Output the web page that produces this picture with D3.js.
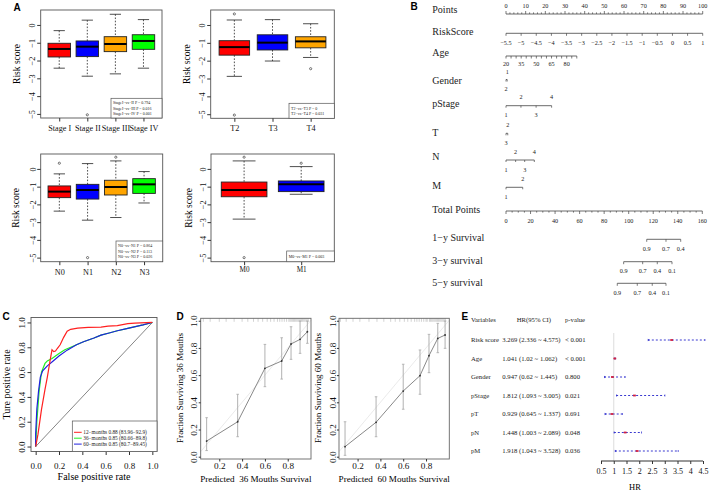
<!DOCTYPE html>
<html><head><meta charset="utf-8">
<script src="https://cdn.jsdelivr.net/npm/d3@7"></script>
<style>body{margin:0;background:#fff}svg{display:block}</style>
</head><body><svg id="c" width="709" height="492"></svg>
<script>
// ---------------- DATA ----------------
// Panel A: boxplot stats [lowWhisker, Q1, median, Q3, highWhisker]
const riskTicks = [-5, -4, -3, -2, -1, 0];
const boxColors = ["#ff0000", "#0000ff", "#ffa500", "#00ff00"];
const stageCats = ["Stage I", "Stage II", "Stage III", "Stage IV"];
const stageStats = [[-2.43, -1.8, -1.35, -1.03, -0.32], [-2.88, -1.78, -1.22, -0.9, 0.27], [-2.75, -1.5, -1.07, -0.66, 0.6], [-2.43, -1.37, -0.9, -0.55, 0.3]];
const stageOutliers = [[], [-5.05], [], []];
const stagePvals = ["StageI\u2212vs\u2212II P = 0.794", "StageI\u2212vs\u2212III P = 0.016", "StageI\u2212vs\u2212IV P = 0.001"];
const tCats = ["T2", "T3", "T4"];
const tStats = [[-2.88, -1.69, -1.24, -0.88, 0.28], [-2.02, -1.4, -0.99, -0.55, 0.3], [-1.82, -1.28, -0.92, -0.66, 0.07]];
const tOutliers = [[0.62, -5.05], [], [-2.45]];
const tPvals = ["T2\u2212vs\u2212T3 P = 0", "T2\u2212vs\u2212T4 P = 0.031"];
const nCats = ["N0", "N1", "N2", "N3"];
const nStats = [[-2.38, -1.62, -1.28, -0.96, -0.28], [-2.89, -1.7, -1.19, -0.87, 0.3], [-2.74, -1.47, -1.02, -0.64, 0.45], [-1.92, -1.38, -0.87, -0.55, -0.15]];
const nOutliers = [[0.32], [-5.0], [0.66], []];
const nPvals = ["N0\u2212vs\u2212N1 P = 0.864", "N0\u2212vs\u2212N2 P = 0.113", "N0\u2212vs\u2212N3 P = 0.026"];
const mCats = ["M0", "M1"];
const mStats = [[-2.83, -1.57, -1.19, -0.74, 0.45], [-1.43, -1.28, -0.87, -0.68, 0.13]];
const mOutliers = [[0.66, -5.0], [0.32]];
const mPvals = ["M0\u2212vs\u2212M1 P = 0.003"];

// Panel B: nomogram
const pointsLabels = [0, 10, 20, 30, 40, 50, 60, 70, 80, 90, 100];
const riskScoreLabels = [-5.5, -5, -4.5, -4, -3.5, -3, -2.5, -2, -1.5, -1, -0.5, 0, 0.5, 1];
const riskScoreRange = [-5.5, 1];         // maps to 0..100 points
const ageTickValues = [20, 25, 30, 35, 40, 45, 50, 55, 60, 65, 70, 75, 80, 85, 90];
const ageLabels = [20, 35, 50, 65, 80];
const ageRange = [20, 90], agePointsRange = [0, 36];
const genderLevels = ["1", "2"], genderPoints = [0.6, 0];
const pStageLevels = ["1", "2", "3", "4"], pStagePoints = [0, 7.6, 15.3, 23.2];
const tLevels = ["2", "3"], tPoints = [0.9, 0];
const nLevels = ["1", "2", "3", "4"], nPoints = [0, 4.9, 9.5, 14.4];
const mLevels = ["1", "2"], mPoints = [0, 8.5];
const totalLabels = [0, 20, 40, 60, 80, 100, 120, 140, 160];
const surv1Probs = ["0.9", "0.7", "0.4"], surv1Total = [114.7, 130.4, 142.4];
const surv3Probs = ["0.9", "0.7", "0.4", "0.1"], surv3Total = [95.9, 111.4, 123.3, 135.3];
const surv5Probs = ["0.9", "0.7", "0.4", "0.1"], surv5Total = [90.7, 107.0, 119.2, 130.4];

// Panel C: ROC curves [FPR, TPR]
const roc12 = [[0,0],[0.02,0.1],[0.05,0.3],[0.08,0.46],[0.1,0.56],[0.125,0.7],[0.14,0.78],[0.155,0.765],[0.17,0.77],[0.185,0.79],[0.21,0.82],[0.24,0.88],[0.27,0.93],[0.3,0.945],[0.36,0.955],[0.45,0.96],[0.56,0.963],[0.62,0.97],[0.7,0.975],[0.79,0.99],[0.85,0.995],[1,1]];
const roc36 = [[0,0],[0.01,0.2],[0.03,0.45],[0.05,0.6],[0.08,0.67],[0.1,0.69],[0.14,0.71],[0.2,0.75],[0.25,0.78],[0.3,0.8],[0.35,0.82],[0.41,0.845],[0.5,0.875],[0.56,0.898],[0.63,0.915],[0.7,0.933],[0.78,0.95],[0.845,0.965],[0.92,0.98],[1,1]];
const roc60 = [[0,0],[0,0.1],[0.01,0.3],[0.025,0.45],[0.04,0.56],[0.06,0.61],[0.1,0.65],[0.15,0.69],[0.2,0.73],[0.27,0.777],[0.35,0.82],[0.41,0.845],[0.5,0.875],[0.56,0.898],[0.63,0.915],[0.7,0.933],[0.78,0.95],[0.845,0.965],[0.92,0.98],[1,1]];
const rocLegend = ["12\u2212months 0.88 (83.96\u221292.9)", "36\u2212months 0.85 (80.66\u221289.8)", "60\u2212months 0.85 (80.7\u221289.45)"];
const rocColors = ["#ff2020", "#22ee22", "#2020e0"];
const unitTicks = [0, 0.2, 0.4, 0.6, 0.8, 1.0];

// Panel D: calibration
const calTicksX = [0.2, 0.4, 0.6, 0.8];
const cal36Pred = [0.089, 0.361, 0.6, 0.747, 0.829, 0.908, 0.972];
const cal36Obs = [0.115, 0.257, 0.65, 0.704, 0.829, 0.863, 0.919];
const cal36Lo = [0.045, 0.147, 0.515, 0.571, 0.716, 0.76, 0.834];
const cal36Hi = [0.287, 0.459, 0.826, 0.875, 0.956, 0.998, 0.998];
const cal60Pred = [0.09, 0.362, 0.6, 0.747, 0.826, 0.903, 0.967];
const cal60Obs = [0.074, 0.253, 0.483, 0.596, 0.743, 0.87, 0.895];
const cal60Lo = [0.01, 0.147, 0.349, 0.459, 0.618, 0.765, 0.797];
const cal60Hi = [0.257, 0.441, 0.68, 0.785, 0.9, 0.981, 0.998];
const rug36 = [0.06,0.12,0.2,0.26,0.33,0.4,0.45,0.5,0.54,0.58,0.62,0.65,0.68,0.71,0.73,0.75,0.77,0.79,0.81,0.82,0.83,0.84,0.85,0.86,0.87,0.88,0.89,0.9,0.91,0.92,0.93,0.94,0.95,0.96,0.97,0.98];
const rug60 = [0.05,0.1,0.16,0.22,0.3,0.37,0.43,0.49,0.53,0.57,0.61,0.64,0.67,0.7,0.72,0.74,0.76,0.78,0.8,0.81,0.83,0.84,0.85,0.86,0.87,0.88,0.89,0.9,0.91,0.92,0.93,0.94,0.95,0.96,0.97];

// Panel E: forest plot
const forestVars = ["Risk score", "Age", "Gender", "pStage", "pT", "pN", "pM"];
const forestHR = [3.269, 1.041, 0.947, 1.812, 0.929, 1.448, 1.918];
const forestLo = [2.336, 1.02, 0.62, 1.093, 0.645, 1.003, 1.043];
const forestHi = [4.575, 1.062, 1.445, 3.005, 1.337, 2.089, 3.528];
const forestP = ["< 0.001", "< 0.001", "0.800", "0.021", "0.691", "0.048", "0.036"];
const hrTicks = [0.5, 1, 1.5, 2, 2.5, 3, 3.5, 4, 4.5];

// ---------------- DRAWING ----------------
const SERIF = '"Liberation Serif","Times New Roman",serif';
const SANS = '"Liberation Sans",Arial,sans-serif';
const svg = d3.select("#c");
const minus = v => (v < 0 ? "\u2212" + Math.abs(v) : String(v));

function panelLetter(t, x, y) {
  svg.append("text").attr("x", x).attr("y", y).text(t)
    .style("font-family", SANS).style("font-weight", "bold").style("font-size", "10px");
}
function styleAxis(g, fs) {
  g.select(".domain").remove();
  g.selectAll("line").attr("stroke", "#333");
  g.selectAll("text").style("font-family", SERIF).style("font-size", fs + "px").attr("fill", "#111");
}
function rotateYLabels(g, off) {
  g.selectAll("text").attr("x", null).attr("dy", "0.35em").attr("text-anchor", "middle")
    .attr("transform", `translate(${-off},0) rotate(-90)`);
}

// ---- Panel A ----
function boxPanel(o) {
  const n = o.cats.length;
  const x = d3.scaleLinear().domain([0.5 - 0.04 * n, n + 0.5 + 0.04 * n]).range([o.left, o.right]);
  const y = d3.scaleLinear().domain([-5.23, 0.84]).range([o.bottom, o.top]);
  const g = svg.append("g");
  const bw = 0.8 * (x(1) - x(0));
  o.stats.forEach((s, i) => {
    const cx = x(i + 1);
    const gg = g.append("g");
    gg.append("line").attr("x1", cx).attr("x2", cx).attr("y1", y(s[4])).attr("y2", y(s[3]))
      .attr("stroke", "#222").attr("stroke-width", 0.8).attr("stroke-dasharray", "1.6,1.6");
    gg.append("line").attr("x1", cx).attr("x2", cx).attr("y1", y(s[1])).attr("y2", y(s[0]))
      .attr("stroke", "#222").attr("stroke-width", 0.8).attr("stroke-dasharray", "1.6,1.6");
    [s[0], s[4]].forEach(v => gg.append("line").attr("x1", cx - bw / 4).attr("x2", cx + bw / 4)
      .attr("y1", y(v)).attr("y2", y(v)).attr("stroke", "#222").attr("stroke-width", 0.8));
    gg.append("rect").attr("x", cx - bw / 2).attr("y", y(s[3])).attr("width", bw)
      .attr("height", y(s[1]) - y(s[3])).attr("fill", boxColors[i]).attr("stroke", "#222").attr("stroke-width", 0.9);
    gg.append("line").attr("x1", cx - bw / 2).attr("x2", cx + bw / 2).attr("y1", y(s[2])).attr("y2", y(s[2]))
      .attr("stroke", "#000").attr("stroke-width", 2);
    gg.selectAll("circle").data(o.outliers[i]).join("circle").attr("cx", cx).attr("cy", d => y(d))
      .attr("r", 1.1).attr("fill", "none").attr("stroke", "#222").attr("stroke-width", 0.6);
  });
  g.append("rect").attr("x", o.left).attr("y", o.top).attr("width", o.right - o.left).attr("height", o.bottom - o.top)
    .attr("fill", "none").attr("stroke", "#555").attr("stroke-width", 0.9);
  const ya = g.append("g").attr("transform", `translate(${o.left},0)`)
    .call(d3.axisLeft(y).tickValues(riskTicks).tickSize(3.5).tickFormat(minus));
  styleAxis(ya, 8.3); rotateYLabels(ya, o.left - o.tickX);
  const xa = g.append("g").attr("transform", `translate(0,${o.bottom})`)
    .call(d3.axisBottom(x).tickValues(d3.range(1, n + 1)).tickSize(3.5).tickFormat(i => o.cats[i - 1]));
  styleAxis(xa, o.xfs);
  xa.selectAll("text").attr("y", o.xoff).attr("dy", "0.35em");
  g.append("text").attr("transform", `translate(${o.titleX},${(o.top + o.bottom) / 2}) rotate(-90)`)
    .attr("text-anchor", "middle").attr("dy", "0.35em").text("Risk score")
    .style("font-family", SERIF).style("font-size", "9.5px");
  // legend
  const lg = g.append("g");
  lg.append("rect").attr("x", o.leg[0]).attr("y", o.leg[1]).attr("width", o.right - o.leg[0]).attr("height", o.bottom - o.leg[1])
    .attr("fill", "#fff").attr("stroke", "#555").attr("stroke-width", 0.7);
  const step = (o.bottom - o.leg[1]) / (o.pvals.length + 0.9);
  lg.selectAll("text").data(o.pvals).join("text")
    .attr("x", o.leg[0] + 2).attr("y", (d, i) => o.leg[1] + step * (i + 0.95)).attr("dy", "0.35em")
    .text(d => d).style("font-family", SERIF).style("font-size", "4px").attr("fill", "#222");
}
boxPanel({cats: stageCats, stats: stageStats, outliers: stageOutliers, pvals: stagePvals,
  left: 40.7, top: 10, right: 162, bottom: 118, tickX: 32.3, titleX: 17, xfs: 8.2, xoff: 10, leg: [111, 98.3]});
boxPanel({cats: tCats, stats: tStats, outliers: tOutliers, pvals: tPvals,
  left: 210.7, top: 10, right: 334.3, bottom: 118.3, tickX: 202.3, titleX: 186.7, xfs: 8.2, xoff: 10, leg: [289, 103.3]});
boxPanel({cats: nCats, stats: nStats, outliers: nOutliers, pvals: nPvals,
  left: 40.7, top: 154, right: 162.7, bottom: 261.7, tickX: 33.3, titleX: 16, xfs: 8.2, xoff: 10.3, leg: [116, 241]});
boxPanel({cats: mCats, stats: mStats, outliers: mOutliers, pvals: mPvals,
  left: 211, top: 154, right: 334.3, bottom: 261.7, tickX: 203.3, titleX: 188.3, xfs: 7.2, xoff: 7.5, leg: [286.7, 251]});
panelLetter("A", 13.5, 10.5);

// ---- Panel B: nomogram ----
const ptsX = d3.scaleLinear().domain([0, 100]).range([506, 702.7]);
const totX = d3.scaleLinear().domain([0, 160]).range([506, 702.3]);
const nomo = svg.append("g");
const NC = "#444";
function rowLabel(t, y) {
  nomo.append("text").attr("x", 432.3).attr("y", y).attr("dy", "0.35em").text(t)
    .style("font-family", SERIF).style("font-size", "10px").attr("fill", "#222");
}
function nomoAxis(y, ticks, up, offA, offB) {
  // ticks: [{x, len, label, side}]
  const xs = ticks.map(t => t.x);
  const g = nomo.append("g");
  g.append("line").attr("x1", d3.min(xs)).attr("x2", d3.max(xs)).attr("y1", y).attr("y2", y)
    .attr("stroke", NC).attr("stroke-width", 0.8);
  g.selectAll("line.t").data(ticks).join("line").attr("class", "t")
    .attr("x1", d => d.x).attr("x2", d => d.x).attr("y1", y).attr("y2", d => y + (up ? -d.len : d.len))
    .attr("stroke", NC).attr("stroke-width", 0.7);
  g.selectAll("text").data(ticks.filter(t => t.label != null)).join("text")
    .attr("x", d => d.x).attr("y", d => y + (d.side === "above" ? -(offA || 8.6) : (offB || 9.6))).attr("dy", "0.35em")
    .attr("text-anchor", "middle").text(d => d.label)
    .style("font-family", SERIF).style("font-size", "6.2px").attr("fill", "#222");
}
function catTicks(levels, points) {
  const order = d3.range(levels.length).sort((a, b) => points[a] - points[b]);
  return order.map((k, j) => ({x: ptsX(points[k]), len: 2, label: levels[k], side: j % 2 ? "above" : "below"}));
}
// Points
rowLabel("Points", 9.3);
nomoAxis(14, d3.range(0, 101, 2).map(v => ({x: ptsX(v), len: pointsLabels.includes(v) ? 3 : 1.6,
  label: pointsLabels.includes(v) ? String(v) : null, side: "above"})), true);
// RiskScore
const rsPts = d3.scaleLinear().domain(riskScoreRange).range([0, 100]);
rowLabel("RiskScore", 31.7);
nomoAxis(33.3, riskScoreLabels.map(v => ({x: ptsX(rsPts(v)), len: 2.5, label: minus(v), side: "below"})), false);
// Age
const agePts = d3.scaleLinear().domain(ageRange).range(agePointsRange);
rowLabel("Age", 52.7);
nomoAxis(56, ageTickValues.map(v => ({x: ptsX(agePts(v)), len: 2.5, label: ageLabels.includes(v) ? String(v) : null, side: "below"})), false, 8.6, 7.6);
// categorical
rowLabel("Gender", 80); nomoAxis(79.5, catTicks(genderLevels, genderPoints), false, 7.2, 9.6);
rowLabel("pStage", 103.3); nomoAxis(105.7, catTicks(pStageLevels, pStagePoints), false);
rowLabel("T", 132.3); nomoAxis(133.3, catTicks(tLevels, tPoints), false);
rowLabel("N", 156.7); nomoAxis(160, catTicks(nLevels, nPoints), false);
rowLabel("M", 185); nomoAxis(187.3, catTicks(mLevels, mPoints), false);
// Total points
rowLabel("Total Points", 209);
nomoAxis(211, d3.range(0, 161, 5).map(v => ({x: totX(v), len: totalLabels.includes(v) ? 3 : 1.6,
  label: totalLabels.includes(v) ? String(v) : null, side: "below"})), false);
// survival
rowLabel("1\u2212y Survival", 237.7);
nomoAxis(239.3, surv1Probs.map((p, i) => ({x: totX(surv1Total[i]), len: 2.5, label: p, side: "below"})), false);
rowLabel("3\u2212y survival", 260.7);
nomoAxis(261.7, surv3Probs.map((p, i) => ({x: totX(surv3Total[i]), len: 2.5, label: p, side: "below"})), false);
rowLabel("5\u2212y survival", 282);
nomoAxis(283.3, surv5Probs.map((p, i) => ({x: totX(surv5Total[i]), len: 2.5, label: p, side: "below"})), false);
panelLetter("B", 410.5, 9.8);

// ---- Panel C: ROC ----
(function () {
  const x = d3.scaleLinear().domain([-0.04, 1.04]).range([31, 157]);
  const y = d3.scaleLinear().domain([-0.04, 1.04]).range([451.5, 317.5]);
  const g = svg.append("g");
  g.append("line").attr("x1", x(0)).attr("y1", y(0)).attr("x2", x(1)).attr("y2", y(1))
    .attr("stroke", "#333").attr("stroke-width", 0.6);
  const line = d3.line().x(d => x(d[0])).y(d => y(d[1]));
  [[roc36, 1], [roc60, 2], [roc12, 0]].forEach(([d, ci]) =>
    g.append("path").attr("d", line(d)).attr("fill", "none").attr("stroke", rocColors[ci]).attr("stroke-width", 1.2));
  g.append("rect").attr("x", 31).attr("y", 317.5).attr("width", 126).attr("height", 134)
    .attr("fill", "none").attr("stroke", "#555").attr("stroke-width", 0.9);
  const xa = g.append("g").attr("transform", "translate(0,451.5)")
    .call(d3.axisBottom(x).tickValues(unitTicks).tickSize(3.5).tickFormat(d3.format(".1f")));
  styleAxis(xa, 9); xa.selectAll("text").attr("y", 17.5).attr("dy", "0");
  const ya = g.append("g").attr("transform", "translate(31,0)")
    .call(d3.axisLeft(y).tickValues(unitTicks).tickSize(3.5).tickFormat(d3.format(".1f")));
  styleAxis(ya, 9); rotateYLabels(ya, 9.5);
  g.append("text").attr("x", 94).attr("y", 476.7).attr("dy", "0.35em").attr("text-anchor", "middle")
    .text("False positive rate").style("font-family", SERIF).style("font-size", "10px");
  g.append("text").attr("transform", "translate(6,384.5) rotate(-90)").attr("dy", "0.35em").attr("text-anchor", "middle")
    .text("Ture positive rate").style("font-family", SERIF).style("font-size", "10px");
  // legend
  g.append("rect").attr("x", 72.3).attr("y", 421).attr("width", 157 - 72.3).attr("height", 451.5 - 421)
    .attr("fill", "#fff").attr("stroke", "#555").attr("stroke-width", 0.7);
  rocLegend.forEach((t, i) => {
    const yy = 432.3 + i * 5.9;
    g.append("line").attr("x1", 74).attr("x2", 81.7).attr("y1", yy).attr("y2", yy)
      .attr("stroke", rocColors[i]).attr("stroke-width", 1);
    g.append("text").attr("x", 83.3).attr("y", yy).attr("dy", "0.35em").text(t)
      .style("font-family", SERIF).style("font-size", "5.3px").attr("fill", "#222");
  });
})();
panelLetter("C", 2.5, 319.5);

// ---- Panel D: calibration ----
function calPanel(o) {
  const x = d3.scaleLinear().domain([0.037, 1.004]).range([o.left, o.right]);
  const y = d3.scaleLinear().domain([-0.017, 1.018]).range([459, 318.3]);
  const g = svg.append("g");
  g.append("line").attr("x1", x(0.037)).attr("y1", y(0.037)).attr("x2", x(1.004)).attr("y2", y(1.004))
    .attr("stroke", "#e4e4e4").attr("stroke-width", 0.8);
  g.selectAll("line.rug").data(o.rug).join("line").attr("class", "rug")
    .attr("x1", d => x(d)).attr("x2", d => x(d)).attr("y1", 318.3).attr("y2", 321.8)
    .attr("stroke", "#b5b5b5").attr("stroke-width", 0.6);
  o.pred.forEach((p, i) => {
    g.append("line").attr("x1", x(p)).attr("x2", x(p)).attr("y1", y(o.lo[i])).attr("y2", y(o.hi[i]))
      .attr("stroke", "#a8a8a8").attr("stroke-width", 0.9);
    [o.lo[i], o.hi[i]].forEach(v => g.append("line").attr("x1", x(p) - 1.3).attr("x2", x(p) + 1.3)
      .attr("y1", y(v)).attr("y2", y(v)).attr("stroke", "#a8a8a8").attr("stroke-width", 0.8));
  });
  const pts = o.pred.map((p, i) => [p, o.obs[i]]);
  g.append("path").attr("d", d3.line().x(d => x(d[0])).y(d => y(d[1]))(pts))
    .attr("fill", "none").attr("stroke", "#7a7a7a").attr("stroke-width", 0.9);
  g.selectAll("circle").data(pts).join("circle").attr("cx", d => x(d[0])).attr("cy", d => y(d[1]))
    .attr("r", 0.9).attr("fill", "#333");
  g.append("rect").attr("x", o.left).attr("y", 318.3).attr("width", o.right - o.left).attr("height", 459 - 318.3)
    .attr("fill", "none").attr("stroke", "#666").attr("stroke-width", 0.9);
  const xa = g.append("g").attr("transform", "translate(0,459)")
    .call(d3.axisBottom(x).tickValues(calTicksX).tickSize(2.5).tickFormat(d3.format(".1f")));
  styleAxis(xa, 9.2); xa.selectAll("text").attr("y", 7).attr("dy", "0.35em");
  const ya = g.append("g").attr("transform", `translate(${o.left},0)`)
    .call(d3.axisLeft(y).tickValues(unitTicks).tickSize(2).tickFormat(d3.format(".1f")));
  styleAxis(ya, 9.2); rotateYLabels(ya, 6.5);
  g.append("text").attr("x", (o.left + o.right) / 2).attr("y", 479).attr("dy", "0.35em").attr("text-anchor", "middle")
    .text(o.xtitle).style("font-family", SERIF).style("font-size", "9.1px").style("white-space", "pre");
  g.append("text").attr("transform", `translate(${o.ytx},388) rotate(-90)`).attr("dy", "0.35em").attr("text-anchor", "middle")
    .text(o.ytitle).style("font-family", SERIF).style("font-size", "9.1px");
}
calPanel({left: 200.7, right: 311, pred: cal36Pred, obs: cal36Obs, lo: cal36Lo, hi: cal36Hi, rug: rug36,
  xtitle: "Predicted  36 Mouths Survival", ytitle: "Fraction Surviving 36 Mouths", ytx: 180});
calPanel({left: 339, right: 449.3, pred: cal60Pred, obs: cal60Obs, lo: cal60Lo, hi: cal60Hi, rug: rug60,
  xtitle: "Predicted  60 Mouths Survival", ytitle: "Fraction Surviving 60 Mouths", ytx: 318.3});
panelLetter("D", 176.5, 319.5);

// ---- Panel E: forest ----
(function () {
  const x = d3.scaleLinear().domain([0.5, 4.5]).range([601, 703]);
  const y = d3.scalePoint().domain(forestVars).range([340, 451]);
  const g = svg.append("g");
  const txt = (s, xx, yy, fs) => g.append("text").attr("x", xx).attr("y", yy).attr("dy", "0.35em").text(s)
    .style("font-family", SERIF).style("font-size", (fs || 6.7) + "px").attr("fill", "#222");
  txt("Variables", 471, 320); txt("HR(95% CI)", 516.7, 320); txt("p-value", 565, 320);
  g.append("line").attr("x1", x(1)).attr("x2", x(1)).attr("y1", 333).attr("y2", 461)
    .attr("stroke", "#dcdcdc").attr("stroke-width", 1);
  forestVars.forEach((v, i) => {
    const yy = y(v);
    txt(v, 471, yy);
    txt(`${forestHR[i]} (${forestLo[i]} ~ ${forestHi[i]})`, 502.3, yy);
    txt(forestP[i], 565, yy);
    g.append("line").attr("x1", x(forestLo[i])).attr("x2", x(forestHi[i])).attr("y1", yy).attr("y2", yy)
      .attr("stroke", "#3a3ad0").attr("stroke-width", 1).attr("stroke-dasharray", "2,2");
    g.append("path").attr("d", `M${x(forestLo[i])},${yy - 1.3}L${x(forestLo[i]) + 2},${yy}L${x(forestLo[i])},${yy + 1.3}Z`)
      .attr("fill", "#3a3ad0");
    g.append("line").attr("x1", x(forestHi[i])).attr("x2", x(forestHi[i])).attr("y1", yy - 1).attr("y2", yy + 1)
      .attr("stroke", "#3a3ad0").attr("stroke-width", 0.8);
    g.append("rect").attr("x", x(forestHR[i]) - 1.4).attr("y", yy - 0.9).attr("width", 2.8).attr("height", 1.8)
      .attr("fill", "#d02040");
  });
  const xa = g.append("g").attr("transform", "translate(0,461)")
    .call(d3.axisBottom(x).tickValues(hrTicks).tickSize(3).tickSizeOuter(0).tickFormat(d => String(d)));
  xa.select(".domain").attr("stroke", "#333").attr("d", `M${x(0.5)},0H${x(4.5)}`);
  xa.selectAll("line").attr("stroke", "#333");
  xa.selectAll("text").style("font-family", SERIF).style("font-size", "8px").attr("fill", "#111")
    .attr("y", 9.7).attr("dy", "0.35em");
  g.append("text").attr("x", 635).attr("y", 486.7).attr("dy", "0.35em").attr("text-anchor", "middle").text("HR")
    .style("font-family", SERIF).style("font-size", "8.5px");
})();
panelLetter("E", 461.5, 319.5);
</script>
</body></html>
